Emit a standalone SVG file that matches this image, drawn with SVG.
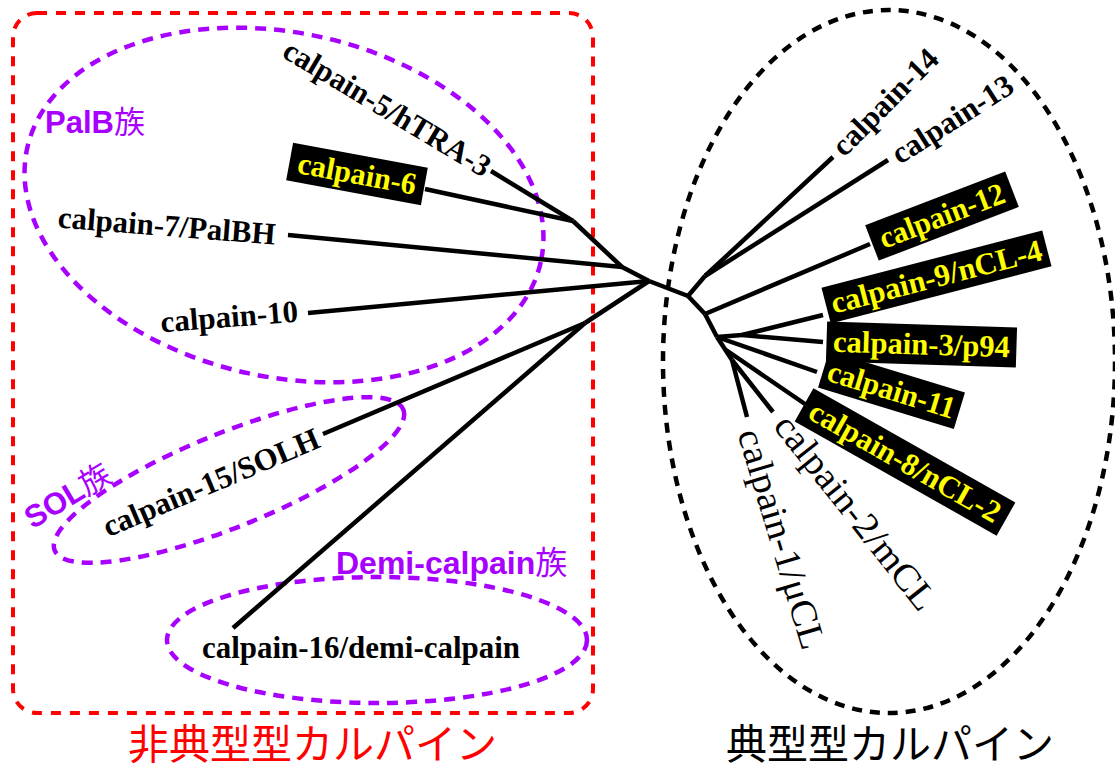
<svg xmlns="http://www.w3.org/2000/svg" width="1115" height="772" viewBox="0 0 1115 772">
<style>
.conn line{stroke:#000;stroke-width:4.5;stroke-linecap:butt}
.lbl{font-family:"Liberation Serif","Times New Roman",serif;font-weight:bold;font-size:31px;fill:#000}
.lblr{font-family:"Liberation Serif","Times New Roman",serif;font-weight:normal;font-size:37px;fill:#000}
.box rect{fill:#000}
.box text{font-family:"Liberation Serif","Times New Roman",serif;font-weight:bold;font-size:31px;fill:#ffff00}
.fam{font-family:"Liberation Sans",Arial,"Noto Sans CJK JP",sans-serif;font-weight:bold;font-size:31px;fill:#a800ff}
.cjk{font-family:"Noto Sans CJK JP",sans-serif;font-weight:normal}
.grp{fill:none;stroke:#a800ff;stroke-width:4.5;stroke-dasharray:11 8}
.big{font-family:"Noto Sans CJK JP",sans-serif;font-weight:normal;font-size:41px}
</style>

<g id="atypical-calpains">
  <rect x="13" y="13" width="580" height="700" rx="24" ry="24" fill="none" stroke="#ff0000" stroke-width="4" stroke-dasharray="10 9"/>
  <text class="big" x="128" y="759" fill="#ff0000">非典型型カルパイン</text>
</g>

<g id="typical-calpains">
  <ellipse cx="889" cy="361.5" rx="226" ry="351.5" fill="none" stroke="#000" stroke-width="4.5" stroke-dasharray="10 8"/>
  <text class="big" x="726" y="759" fill="#000">典型型カルパイン</text>
</g>

<g id="palb-family">
  <ellipse class="grp" cx="0" cy="0" rx="263" ry="172" transform="translate(284,205) rotate(12.5)"/>
  <text class="fam" x="45" y="133">PalB<tspan class="cjk">族</tspan></text>
</g>

<g id="sol-family">
  <ellipse class="grp" cx="0" cy="0" rx="188" ry="47" transform="translate(229,480) rotate(-22)"/>
  <text class="fam" text-anchor="middle" transform="translate(73,505) rotate(-31)">SOL<tspan class="cjk">族</tspan></text>
</g>

<g id="demi-family">
  <ellipse class="grp" cx="377" cy="640" rx="210" ry="63"/>
  <text class="fam" x="336" y="574" style="font-size:32px">Demi-calpain<tspan class="cjk">族</tspan></text>
</g>

<g id="connectors" class="conn">
  <line x1="491" y1="171" x2="573" y2="221"/>
  <line x1="425" y1="189" x2="573" y2="221"/>
  <line x1="573" y1="221" x2="622" y2="267"/>
  <line x1="288" y1="235" x2="622" y2="267"/>
  <line x1="622" y1="267" x2="649" y2="281"/>
  <line x1="308" y1="313" x2="649" y2="281"/>
  <line x1="649" y1="281" x2="585" y2="323"/>
  <line x1="323" y1="434" x2="585" y2="323"/>
  <line x1="233" y1="628" x2="585" y2="323"/>
  <line x1="649" y1="281" x2="688" y2="296"/>
  <line x1="688" y1="296" x2="705" y2="276"/>
  <line x1="705" y1="276" x2="833" y2="157"/>
  <line x1="705" y1="276" x2="888" y2="160"/>
  <line x1="688" y1="296" x2="705" y2="314"/>
  <line x1="705" y1="314" x2="870" y2="244"/>
  <line x1="705" y1="314" x2="717" y2="337"/>
  <line x1="717" y1="337" x2="742" y2="335"/>
  <line x1="742" y1="335" x2="823" y2="315"/>
  <line x1="742" y1="335" x2="823" y2="342"/>
  <line x1="717" y1="337" x2="817" y2="372"/>
  <line x1="717" y1="337" x2="732" y2="360"/>
  <line x1="726" y1="350" x2="805" y2="404"/>
  <line x1="732" y1="360" x2="773" y2="412"/>
  <line x1="732" y1="360" x2="747" y2="417"/>
</g>

<g id="calpain-5"><text class="lbl" text-anchor="middle" textLength="236" lengthAdjust="spacingAndGlyphs" transform="translate(382,117) rotate(31)">calpain-5/hTRA-3</text></g>
<g id="calpain-7"><text class="lbl" text-anchor="middle" textLength="218" lengthAdjust="spacingAndGlyphs" transform="translate(166,236) rotate(4.5)">calpain-7/PalBH</text></g>
<g id="calpain-10"><text class="lbl" text-anchor="middle" textLength="138" lengthAdjust="spacingAndGlyphs" transform="translate(230,327) rotate(-4.5)">calpain-10</text></g>
<g id="calpain-15"><text class="lbl" text-anchor="middle" textLength="232" lengthAdjust="spacingAndGlyphs" transform="translate(215,492) rotate(-23)">calpain-15/SOLH</text></g>
<g id="calpain-16"><text class="lbl" x="202" y="658" textLength="318" lengthAdjust="spacingAndGlyphs">calpain-16/demi-calpain</text></g>
<g id="calpain-14"><text class="lbl" text-anchor="middle" textLength="137" lengthAdjust="spacingAndGlyphs" transform="translate(892.5,109.4) rotate(-45.3)">calpain-14</text></g>
<g id="calpain-13"><text class="lbl" text-anchor="middle" textLength="138" lengthAdjust="spacingAndGlyphs" transform="translate(958,128) rotate(-32.5)">calpain-13</text></g>
<g id="calpain-2"><text class="lblr" text-anchor="middle" textLength="238" lengthAdjust="spacingAndGlyphs" transform="translate(846,520) rotate(51.7)">calpain-2/mCL</text></g>
<g id="calpain-1"><text class="lblr" text-anchor="middle" textLength="228" lengthAdjust="spacingAndGlyphs" transform="translate(770,542.5) rotate(73.3)">calpain-1/μCL</text></g>

<g id="calpain-6" class="box" transform="translate(357,174) rotate(10.5)">
  <rect x="-68.5" y="-19" width="137" height="38"/>
  <text x="0" y="10" text-anchor="middle" textLength="120" lengthAdjust="spacingAndGlyphs">calpain-6</text>
</g>
<g id="calpain-8" class="box" transform="translate(905,462) rotate(29.5)">
  <rect x="-116" y="-19" width="232" height="38"/>
  <text x="0" y="10" text-anchor="middle" textLength="215" lengthAdjust="spacingAndGlyphs">calpain-8/nCL-2</text>
</g>
<g id="calpain-11" class="box" transform="translate(891.5,390) rotate(17)">
  <rect x="-71" y="-19" width="142" height="38"/>
  <text x="0" y="10" text-anchor="middle" textLength="132" lengthAdjust="spacingAndGlyphs">calpain-11</text>
</g>
<g id="calpain-3" class="box" transform="translate(921.5,344.5) rotate(1.8)">
  <rect x="-95" y="-20" width="190" height="40"/>
  <text x="0" y="10" text-anchor="middle" textLength="177" lengthAdjust="spacingAndGlyphs">calpain-3/p94</text>
</g>
<g id="calpain-9" class="box" transform="translate(936.5,277) rotate(-14.5)">
  <rect x="-114" y="-18.5" width="228" height="37"/>
  <text x="0" y="10" text-anchor="middle" textLength="217" lengthAdjust="spacingAndGlyphs">calpain-9/nCL-4</text>
</g>
<g id="calpain-12" class="box" transform="translate(942,216) rotate(-21)">
  <rect x="-75" y="-19" width="150" height="38"/>
  <text x="0" y="10" text-anchor="middle" textLength="132" lengthAdjust="spacingAndGlyphs">calpain-12</text>
</g>
</svg>
